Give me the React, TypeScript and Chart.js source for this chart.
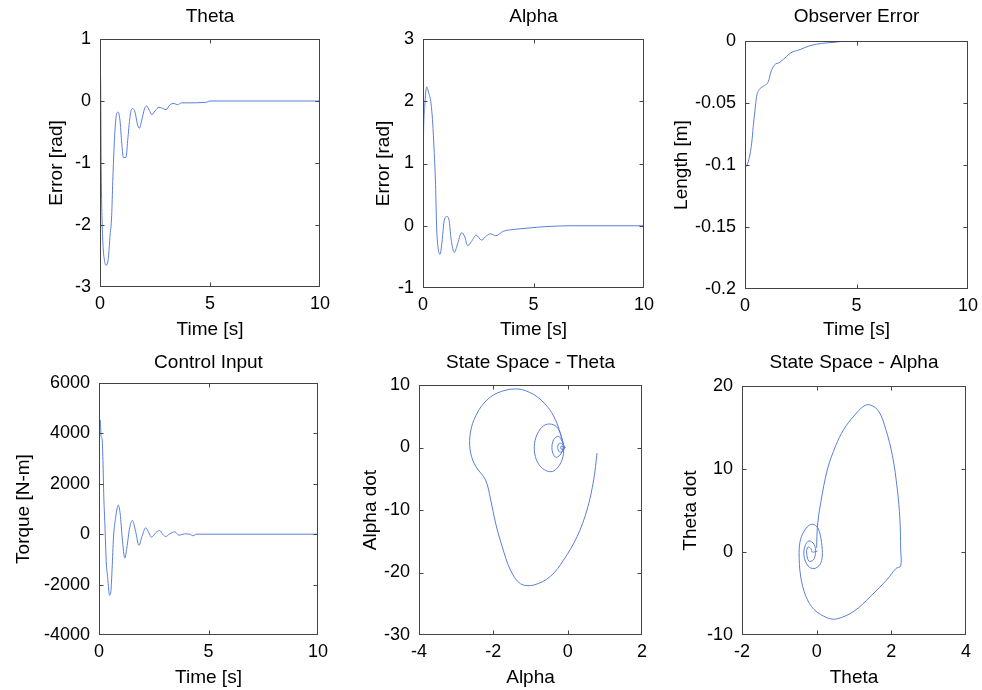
import React, { useEffect, useRef } from 'react';
import { Chart, registerables } from 'chart.js';

Chart.register(...registerables);

// ---------------- data ----------------
const timeTicks = [0, 5, 10];

const thetaErrorPts: [number, number][] = [
  [0, 0], [0.01, 0.45], [0.03, 0.3], [0.05, -0.85], [0.07, -1.5], [0.1, -2.0], [0.15, -2.4], [0.22, -2.6],
  [0.27, -2.65], [0.35, -2.6], [0.4, -2.45], [0.45, -2.2], [0.53, -1.85], [0.58, -1.3], [0.64, -0.75],
  [0.7, -0.37], [0.76, -0.2], [0.83, -0.18], [0.91, -0.32], [0.98, -0.64], [1.06, -0.91], [1.18, -0.91],
  [1.27, -0.59], [1.38, -0.21], [1.48, -0.12], [1.59, -0.18], [1.7, -0.37], [1.79, -0.44], [1.89, -0.32],
  [2.02, -0.13], [2.12, -0.08], [2.24, -0.15], [2.36, -0.22], [2.5, -0.16], [2.68, -0.1], [2.85, -0.12],
  [3.0, -0.14], [3.18, -0.06], [3.36, -0.04], [3.52, -0.06], [3.71, -0.03], [3.94, -0.03], [4.85, -0.02],
  [4.97, 0], [10, 0],
];
const thetaYTicks = [-3, -2, -1, 0, 1];

const alphaErrorPts: [number, number][] = [
  [0, 0.38], [0.02, 1.34], [0.08, 1.92], [0.17, 2.23], [0.26, 2.13], [0.35, 2.0], [0.44, 1.65], [0.5, 1.23],
  [0.56, 0.75], [0.62, -0.05], [0.69, -0.37], [0.77, -0.46], [0.86, -0.26], [0.95, 0.06], [1.07, 0.15],
  [1.18, 0.09], [1.27, -0.21], [1.42, -0.43], [1.55, -0.31], [1.75, -0.11], [1.89, -0.18], [2.02, -0.32],
  [2.2, -0.25], [2.4, -0.15], [2.65, -0.23], [2.88, -0.16], [3.06, -0.13], [3.3, -0.16], [3.63, -0.09],
  [4.09, -0.06], [4.69, -0.04], [5.29, -0.02], [6.65, 0], [10, 0],
];
const alphaYTicks = [-1, 0, 1, 2, 3];

const observerErrorPts: [number, number][] = [
  [0, -0.1025], [0.15, -0.097], [0.3, -0.0823], [0.37, -0.0688], [0.45, -0.0554], [0.52, -0.0446],
  [0.64, -0.0392], [0.82, -0.0365], [1.05, -0.0325], [1.15, -0.0257], [1.3, -0.0198], [1.57, -0.0171],
  [1.87, -0.0123], [2.05, -0.0096], [2.47, -0.0069], [2.84, -0.0042], [3.21, -0.0026], [3.66, -0.0015],
  [4.04, -0.001], [4.45, 0],
];
const observerYTicks = [-0.2, -0.15, -0.1, -0.05, 0];

const controlInputPts: [number, number][] = [
  [0, 1500], [0.02, 4000], [0.05, 4540], [0.1, 3870], [0.14, 3800], [0.18, 2930], [0.22, 1460], [0.27, 390],
  [0.33, -1085], [0.4, -1754], [0.48, -2424], [0.54, -2290], [0.6, -1352], [0.66, -147], [0.76, 656],
  [0.88, 1152], [0.97, 790], [1.06, -147], [1.18, -950], [1.27, -549], [1.4, 254], [1.52, 549], [1.67, 120],
  [1.82, -442], [1.98, -40], [2.13, 254], [2.28, 54], [2.39, -120], [2.59, 54], [2.77, 147], [2.92, -13],
  [3.04, -94], [3.23, 13], [3.46, 94], [3.65, -40], [3.91, 13], [4.14, 0], [4.29, -60], [4.45, 0], [10, 0],
];
const controlYTicks = [-4000, -2000, 0, 2000, 4000, 6000];

// State Space - Theta : [Alpha, Alpha dot]
const stateThetaPts: [number, number][] = [
  [0.79, -0.9], [0.7, -5.18], [0.52, -10.0], [0.25, -14.3], [-0.11, -18.0], [-0.46, -20.6], [-0.91, -22.0],
  [-1.27, -21.8], [-1.54, -19.6], [-1.76, -15.9], [-1.94, -12.1], [-2.07, -8.4], [-2.21, -5.18], [-2.47, -3.05],
  [-2.61, -0.9], [-2.63, 1.77], [-2.52, 4.45], [-2.25, 7.12], [-1.89, 8.73], [-1.36, 9.37], [-0.91, 8.46],
  [-0.55, 6.58], [-0.33, 4.45], [-0.2, 2.31], [-0.11, 0.16], [-0.15, -1.97], [-0.33, -3.58], [-0.51, -3.85],
  [-0.73, -3.05], [-0.87, -1.44], [-0.89, 0.7], [-0.78, 2.57], [-0.6, 3.64], [-0.38, 3.64], [-0.24, 2.84],
  [-0.15, 1.24], [-0.12, 0.06], [-0.2, -1.17], [-0.33, -1.55], [-0.42, -0.37], [-0.38, 1.24], [-0.24, 1.77],
  [-0.15, 0.96], [-0.09, 0.06], [-0.13, -0.6], [-0.22, -0.7], [-0.27, 0], [-0.22, 0.7], [-0.14, 0.5],
  [-0.08, 0], [-0.12, -0.3], [-0.18, -0.2], [-0.18, 0.2], [-0.12, 0.15], [-0.05, 0],
];
const stateThetaXTicks = [-4, -2, 0, 2];
const stateThetaYTicks = [-30, -20, -10, 0, 10];

// State Space - Alpha : [Theta, Theta dot]
const stateAlphaPts: [number, number][] = [
  [0, 0.5], [0.02, 3.14], [0.11, 5.97], [0.29, 10.0], [0.51, 12.8], [0.73, 14.8], [1.0, 16.4], [1.27, 17.6],
  [1.45, 17.7], [1.67, 16.9], [1.85, 14.8], [2.03, 11.6], [2.16, 7.58], [2.23, 3.95], [2.25, 0.33],
  [2.25, -1.69], [2.12, -2.0], [1.89, -3.3], [1.45, -5.32], [1.0, -7.13], [0.55, -8.05], [0.29, -7.94],
  [-0.07, -6.93], [-0.29, -5.32], [-0.43, -2.9], [-0.47, -0.08], [-0.43, 1.54], [-0.29, 2.83], [-0.12, 3.35],
  [0.04, 2.83], [0.13, 1.14], [0.15, -0.48], [0.09, -1.49], [-0.07, -2.0], [-0.23, -1.69], [-0.34, -0.48],
  [-0.31, 0.73], [-0.21, 1.33], [-0.07, 0.93], [-0.03, -0.08], [-0.09, -0.97], [-0.21, -1.09], [-0.27, 0],
  [-0.23, 0.6], [-0.15, 0.4], [-0.12, 0], [0.02, 0.1],
];
const stateAlphaXTicks = [-2, 0, 2, 4];
const stateAlphaYTicks = [-10, 0, 10, 20];

// ---------------- layout / style ----------------
const FONT = "'Liberation Sans', Arial, Helvetica, sans-serif";
const LINE_COLOR = '#5a7fd8';
const FRAME_COLOR = '#444';
const TITLE_SIZE = 19;
const TICK_SIZE = 18;
const LH = TITLE_SIZE * 1.2;

type PanelSpec = {
  title: string;
  xTitle: string;
  yTitle: string;
  pts: [number, number][];
  xTicks: number[];
  yTicks: number[];
  timeSeries: boolean;
  box: { l: number; t: number; r: number; b: number };
  titleY: number;
  xTitleY: number;
  yTitleX: number;
};

const panels: PanelSpec[] = [
  { title: 'Theta', xTitle: 'Time [s]', yTitle: 'Error [rad]', pts: thetaErrorPts, xTicks: timeTicks, yTicks: thetaYTicks, timeSeries: true,
    box: { l: 100, t: 39, r: 320, b: 287 }, titleY: 16, xTitleY: 330, yTitleX: 56 },
  { title: 'Alpha', xTitle: 'Time [s]', yTitle: 'Error [rad]', pts: alphaErrorPts, xTicks: timeTicks, yTicks: alphaYTicks, timeSeries: true,
    box: { l: 423, t: 39, r: 644, b: 288 }, titleY: 16, xTitleY: 330, yTitleX: 383 },
  { title: 'Observer Error', xTitle: 'Time [s]', yTitle: 'Length [m]', pts: observerErrorPts, xTicks: timeTicks, yTicks: observerYTicks, timeSeries: true,
    box: { l: 745, t: 41, r: 968, b: 289 }, titleY: 16, xTitleY: 330, yTitleX: 681 },
  { title: 'Control Input', xTitle: 'Time [s]', yTitle: 'Torque [N-m]', pts: controlInputPts, xTicks: timeTicks, yTicks: controlYTicks, timeSeries: true,
    box: { l: 99, t: 383, r: 318, b: 635 }, titleY: 362, xTitleY: 678, yTitleX: 23 },
  { title: 'State Space - Theta', xTitle: 'Alpha', yTitle: 'Alpha dot', pts: stateThetaPts, xTicks: stateThetaXTicks, yTicks: stateThetaYTicks, timeSeries: false,
    box: { l: 419, t: 385, r: 642, b: 635 }, titleY: 362, xTitleY: 678, yTitleX: 370 },
  { title: 'State Space - Alpha', xTitle: 'Theta', yTitle: 'Theta dot', pts: stateAlphaPts, xTicks: stateAlphaXTicks, yTicks: stateAlphaYTicks, timeSeries: false,
    box: { l: 742, t: 386, r: 966, b: 635 }, titleY: 362, xTitleY: 678, yTitleX: 690 },
];

const fmt = (v: number) => String(Math.round(v * 10000) / 10000);

const framePlugin = {
  id: 'frame',
  afterDatasetsDraw(chart: any) {
    const { ctx, chartArea: a, scales } = chart;
    const sx = scales.x;
    const sy = scales.y;
    const L = Math.round(a.left) + 0.5;
    const R = Math.round(a.right) - 0.5;
    const T = Math.round(a.top) + 0.5;
    const B = Math.round(a.bottom) - 0.5;
    ctx.save();
    ctx.strokeStyle = FRAME_COLOR;
    ctx.lineWidth = 1;
    ctx.strokeRect(L, T, R - L, B - T);
    const tl = 4;
    ctx.beginPath();
    sx.ticks.forEach((t: any, i: number) => {
      if (i === 0 || i === sx.ticks.length - 1) return;
      const px = Math.round(sx.getPixelForValue(t.value)) + 0.5;
      ctx.moveTo(px, B); ctx.lineTo(px, B - tl);
      ctx.moveTo(px, T); ctx.lineTo(px, T + tl);
    });
    sy.ticks.forEach((t: any, i: number) => {
      if (i === 0 || i === sy.ticks.length - 1) return;
      const py = Math.round(sy.getPixelForValue(t.value)) + 0.5;
      ctx.moveTo(L, py); ctx.lineTo(L + tl, py);
      ctx.moveTo(R, py); ctx.lineTo(R - tl, py);
    });
    ctx.stroke();
    ctx.restore();
  },
};

function Panel({ p }: { p: PanelSpec }) {
  const ref = useRef<HTMLCanvasElement>(null);
  const left = Math.round(p.yTitleX - LH / 2);
  const top = Math.round(p.titleY - LH / 2);
  const width = Math.round(p.box.r + 24 - left);
  const height = Math.round(p.xTitleY + LH / 2 - top);

  useEffect(() => {
    const tickFont = { family: FONT, size: TICK_SIZE, weight: 'normal' as const };
    const titleFont = { family: FONT, size: TITLE_SIZE, weight: 'normal' as const, lineHeight: 1.2 };
    const chart = new Chart(ref.current as HTMLCanvasElement, {
      type: 'scatter',
      data: {
        datasets: [{
          data: p.pts.map(([x, y]) => ({ x, y })),
          showLine: true,
          borderColor: LINE_COLOR,
          borderWidth: 1,
          pointRadius: 0,
          pointHoverRadius: 0,
          fill: false,
          ...(p.timeSeries ? { cubicInterpolationMode: 'monotone' } : { tension: 0.35 }),
        }],
      },
      options: {
        responsive: false,
        animation: false,
        devicePixelRatio: 1,
        events: [],
        layout: { padding: { left: 0, top: 0, bottom: 0, right: left + width - p.box.r } },
        plugins: {
          legend: { display: false },
          tooltip: { enabled: false },
          title: {
            display: true,
            text: p.title,
            fullSize: false,
            color: '#000',
            font: titleFont,
            padding: { top: 0, bottom: p.box.t - top - LH },
          },
        },
        scales: {
          x: {
            type: 'linear',
            min: p.xTicks[0],
            max: p.xTicks[p.xTicks.length - 1],
            afterBuildTicks: (s: any) => { s.ticks = p.xTicks.map((v) => ({ value: v })); },
            afterFit: (s: any) => { s.height = top + height - p.box.b; },
            grid: { display: false, drawTicks: false },
            border: { display: false },
            ticks: { padding: 6, color: '#000', font: tickFont, maxRotation: 0, autoSkip: false, callback: (v: any) => fmt(Number(v)) },
            title: { display: true, text: p.xTitle, color: '#000', font: titleFont, padding: 0 },
          },
          y: {
            type: 'linear',
            min: p.yTicks[0],
            max: p.yTicks[p.yTicks.length - 1],
            afterBuildTicks: (s: any) => { s.ticks = p.yTicks.map((v) => ({ value: v })); },
            afterFit: (s: any) => { s.width = p.box.l - left; },
            grid: { display: false, drawTicks: false },
            border: { display: false },
            ticks: { padding: 9, color: '#000', font: tickFont, autoSkip: false, callback: (v: any) => fmt(Number(v)) },
            title: { display: true, text: p.yTitle, color: '#000', font: titleFont, padding: 0 },
          },
        },
      },
      plugins: [framePlugin],
    } as any);
    return () => chart.destroy();
  }, []);

  return (
    <canvas
      ref={ref}
      width={width}
      height={height}
      style={{ position: 'absolute', left, top, width, height }}
    />
  );
}

export default function App() {
  return (
    <div style={{ position: 'absolute', left: 0, top: 0, width: 982, height: 690, background: '#fff', overflow: 'hidden' }}>
      {panels.map((p, i) => <Panel key={i} p={p} />)}
    </div>
  );
}
